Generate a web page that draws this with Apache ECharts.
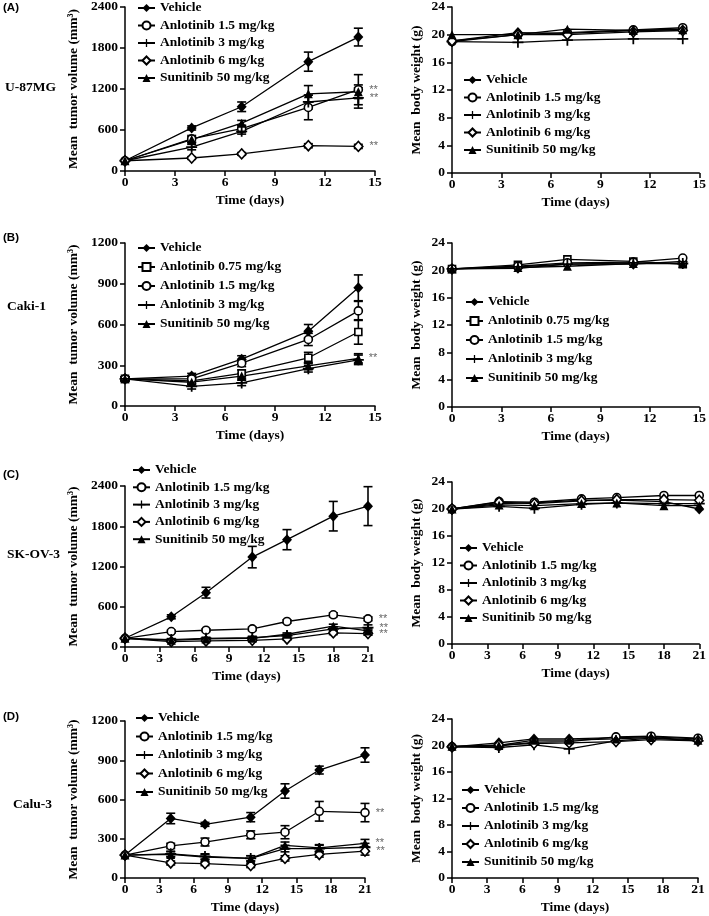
<!DOCTYPE html>
<html><head><meta charset="utf-8">
<script src="https://cdn.jsdelivr.net/npm/echarts@6/dist/echarts.min.js"></script>
<style>html,body{margin:0;padding:0;background:#fff}#c{width:709px;height:916px}</style>
</head><body><div id="c"></div>
<script>
// ---------- names ----------
const N_VEH = 'Vehicle';
const N_A075 = 'Anlotinib 0.75 mg/kg';
const N_A15 = 'Anlotinib 1.5 mg/kg';
const N_A3 = 'Anlotinib 3 mg/kg';
const N_A6 = 'Anlotinib 6 mg/kg';
const N_SUN = 'Sunitinib 50 mg/kg';

// ---------- Panel A: U-87MG ----------
const A_days = [0, 4, 7, 11, 14];
const A_vol_veh = [150, 630, 940, 1600, 1960];
const A_vol_veh_err = [0, 30, 70, 140, 130];
const A_vol_a15 = [150, 470, 620, 930, 1190];
const A_vol_a15_err = [0, 50, 50, 180, 220];
const A_vol_a3 = [150, 350, 580, 1010, 1070];
const A_vol_a3_err = [0, 40, 40, 100, 150];
const A_vol_a6 = [150, 190, 250, 370, 360];
const A_vol_a6_err = [0, 20, 20, 30, 30];
const A_vol_sun = [150, 460, 700, 1130, 1160];
const A_vol_sun_err = [0, 40, 40, 120, 100];
const A_vol_stars = [false, true, true, true, false];
const A_bw_veh = [19.1, 20.3, 20.2, 20.6, 20.8];
const A_bw_a15 = [19.0, 20.0, 20.3, 20.7, 21.0];
const A_bw_a3 = [19.0, 18.9, 19.2, 19.4, 19.4];
const A_bw_a6 = [19.1, 20.0, 20.0, 20.4, 20.6];
const A_bw_sun = [20.0, 20.0, 20.8, 20.6, 20.7];

// ---------- Panel B: Caki-1 ----------
const B_days = [0, 4, 7, 11, 14];
const B_vol_veh = [200, 220, 345, 550, 870];
const B_vol_veh_err = [15, 20, 25, 50, 95];
const B_vol_a075 = [200, 185, 240, 355, 545];
const B_vol_a075_err = [15, 20, 25, 40, 90];
const B_vol_a15 = [200, 200, 315, 490, 700];
const B_vol_a15_err = [15, 20, 25, 45, 70];
const B_vol_a3 = [200, 145, 170, 275, 340];
const B_vol_a3_err = [15, 20, 20, 25, 35];
const B_vol_sun = [200, 175, 220, 295, 350];
const B_vol_sun_err = [15, 15, 20, 25, 35];
const B_vol_stars = [false, false, false, false, true];
const B_bw_veh = [20.2, 20.3, 20.9, 20.9, 21.3];
const B_bw_a075 = [20.2, 20.8, 21.6, 21.3, 20.9];
const B_bw_a15 = [20.2, 20.6, 21.1, 21.2, 21.8];
const B_bw_a3 = [20.2, 20.5, 20.9, 21.1, 21.0];
const B_bw_sun = [20.2, 20.4, 20.6, 21.0, 21.0];

// ---------- Panel C: SK-OV-3 ----------
const C_days = [0, 4, 7, 11, 14, 18, 21];
const C_vol_veh = [130, 450, 810, 1340, 1600, 1950, 2100];
const C_vol_veh_err = [0, 30, 80, 160, 150, 220, 290];
const C_vol_a15 = [130, 230, 250, 270, 380, 480, 420];
const C_vol_a15_err = [0, 20, 20, 25, 25, 30, 30];
const C_vol_a3 = [130, 110, 130, 140, 170, 270, 290];
const C_vol_a3_err = [0, 15, 15, 20, 20, 30, 40];
const C_vol_a6 = [130, 80, 90, 100, 120, 210, 200];
const C_vol_a6_err = [0, 10, 10, 15, 15, 25, 25];
const C_vol_sun = [130, 100, 120, 130, 190, 310, 240];
const C_vol_sun_err = [0, 15, 15, 20, 20, 30, 30];
const C_vol_stars = [false, true, true, true, false];
const C_bw_veh = [20.0, 20.8, 20.9, 21.3, 21.3, 21.1, 20.0];
const C_bw_a15 = [20.0, 21.1, 21.0, 21.5, 21.7, 22.0, 22.0];
const C_bw_a3 = [20.0, 20.4, 20.1, 20.7, 20.9, 20.8, 20.8];
const C_bw_a6 = [20.0, 21.0, 20.8, 21.2, 21.4, 21.4, 21.3];
const C_bw_sun = [20.0, 20.6, 20.5, 20.8, 20.9, 20.5, 20.5];

// ---------- Panel D: Calu-3 ----------
const D_days = [0, 4, 7, 11, 14, 17, 21];
const D_vol_veh = [175, 455, 410, 465, 665, 825, 940];
const D_vol_veh_err = [0, 40, 15, 35, 55, 30, 55];
const D_vol_a15 = [175, 245, 275, 330, 350, 510, 500];
const D_vol_a15_err = [0, 20, 30, 30, 50, 75, 70];
const D_vol_a3 = [175, 185, 165, 150, 225, 225, 235];
const D_vol_a3_err = [0, 20, 20, 20, 25, 25, 30];
const D_vol_a6 = [175, 115, 110, 95, 150, 180, 205];
const D_vol_a6_err = [0, 15, 15, 15, 20, 20, 30];
const D_vol_sun = [175, 180, 160, 150, 250, 230, 265];
const D_vol_sun_err = [0, 20, 20, 20, 25, 25, 30];
const D_vol_stars = [false, true, false, true, true];
const D_bw_days = [0, 4, 7, 10, 14, 17, 21];
const D_bw_veh = [19.8, 20.4, 21.0, 21.0, 21.2, 21.3, 21.0];
const D_bw_a15 = [19.8, 19.9, 20.5, 20.6, 21.3, 21.4, 21.1];
const D_bw_a3 = [19.8, 19.7, 20.1, 19.5, 20.7, 21.1, 20.7];
const D_bw_a6 = [19.8, 20.1, 20.3, 20.4, 20.6, 20.9, 20.7];
const D_bw_sun = [19.9, 20.0, 20.8, 20.8, 21.0, 21.2, 20.8];

// ---------- tick settings ----------
const X15_max = 15, X21_max = 21, X_interval = 3;
const VOL2400_max = 2400, VOL2400_interval = 600;
const VOL1200_max = 1200, VOL1200_interval = 300;
const BW_max = 24, BW_interval = 4;

// ---------- styles ----------
const SERIF = "'Liberation Serif', 'Times New Roman', serif";
const PLUS = 'path://M4.2,0 H5.8 V4.2 H10 V5.8 H5.8 V10 H4.2 V5.8 H0 V4.2 H4.2 Z';
const STYLE = {};
STYLE[N_VEH] = { symbol: 'diamond', fill: '#000', size: [10, 11] };
STYLE[N_A075] = { symbol: 'rect', fill: '#fff', size: 7 };
STYLE[N_A15] = { symbol: 'circle', fill: '#fff', size: 8 };
STYLE[N_A3] = { symbol: PLUS, fill: '#000', size: 11 };
STYLE[N_A6] = { symbol: 'diamond', fill: '#fff', size: [9, 10] };
STYLE[N_SUN] = { symbol: 'triangle', fill: '#000', size: 9 };

const GRIDS = [
  { left: 125, top: 7, width: 250, height: 164 },
  { left: 452, top: 6, width: 250, height: 167 },
  { left: 125, top: 243, width: 250, height: 163 },
  { left: 452, top: 243, width: 250, height: 164 },
  { left: 125, top: 486, width: 243, height: 161 },
  { left: 452, top: 482, width: 250, height: 162 },
  { left: 125, top: 721, width: 240, height: 160 },
  { left: 452, top: 719, width: 246, height: 162 }
];

const panels = [
  { days: A_days, names: [N_VEH, N_A15, N_A3, N_A6, N_SUN], vals: [A_vol_veh, A_vol_a15, A_vol_a3, A_vol_a6, A_vol_sun], errs: [A_vol_veh_err, A_vol_a15_err, A_vol_a3_err, A_vol_a6_err, A_vol_sun_err], stars: A_vol_stars, xmax: X15_max, ymax: VOL2400_max, yint: VOL2400_interval, vol: true, legend: { left: 137, top: 1, gap: 3.5 } },
  { days: A_days, names: [N_VEH, N_A15, N_A3, N_A6, N_SUN], vals: [A_bw_veh, A_bw_a15, A_bw_a3, A_bw_a6, A_bw_sun], xmax: X15_max, ymax: BW_max, yint: BW_interval, vol: false, legend: { left: 463, top: 73, gap: 3.5 } },
  { days: B_days, names: [N_VEH, N_A075, N_A15, N_A3, N_SUN], vals: [B_vol_veh, B_vol_a075, B_vol_a15, B_vol_a3, B_vol_sun], errs: [B_vol_veh_err, B_vol_a075_err, B_vol_a15_err, B_vol_a3_err, B_vol_sun_err], stars: B_vol_stars, xmax: X15_max, ymax: VOL1200_max, yint: VOL1200_interval, vol: true, legend: { left: 137, top: 241, gap: 5 } },
  { days: B_days, names: [N_VEH, N_A075, N_A15, N_A3, N_SUN], vals: [B_bw_veh, B_bw_a075, B_bw_a15, B_bw_a3, B_bw_sun], xmax: X15_max, ymax: BW_max, yint: BW_interval, vol: false, legend: { left: 465, top: 295, gap: 5 } },
  { days: C_days, names: [N_VEH, N_A15, N_A3, N_A6, N_SUN], vals: [C_vol_veh, C_vol_a15, C_vol_a3, C_vol_a6, C_vol_sun], errs: [C_vol_veh_err, C_vol_a15_err, C_vol_a3_err, C_vol_a6_err, C_vol_sun_err], stars: C_vol_stars, xmax: X21_max, ymax: VOL2400_max, yint: VOL2400_interval, vol: true, legend: { left: 132, top: 463, gap: 3.3 } },
  { days: C_days, names: [N_VEH, N_A15, N_A3, N_A6, N_SUN], vals: [C_bw_veh, C_bw_a15, C_bw_a3, C_bw_a6, C_bw_sun], xmax: X21_max, ymax: BW_max, yint: BW_interval, vol: false, legend: { left: 459, top: 541, gap: 3.5 } },
  { days: D_days, names: [N_VEH, N_A15, N_A3, N_A6, N_SUN], vals: [D_vol_veh, D_vol_a15, D_vol_a3, D_vol_a6, D_vol_sun], errs: [D_vol_veh_err, D_vol_a15_err, D_vol_a3_err, D_vol_a6_err, D_vol_sun_err], stars: D_vol_stars, xmax: X21_max, ymax: VOL1200_max, yint: VOL1200_interval, vol: true, legend: { left: 135, top: 711, gap: 4.5 } },
  { days: D_bw_days, names: [N_VEH, N_A15, N_A3, N_A6, N_SUN], vals: [D_bw_veh, D_bw_a15, D_bw_a3, D_bw_a6, D_bw_sun], xmax: X21_max, ymax: BW_max, yint: BW_interval, vol: false, legend: { left: 461, top: 783, gap: 4 } }
];

const axisText = { fontFamily: SERIF, fontWeight: 'bold', fontSize: 13.5, color: '#000' };
const axisLine = { show: true, lineStyle: { color: '#000', width: 1.5 } };
const axisTick = { show: true, length: 5, lineStyle: { color: '#000', width: 1.5 } };
const plainNum = v => String(v);

const grid = [], xAxis = [], yAxis = [], series = [], legend = [];

function renderErr(params, api) {
  const x = api.value(0), y = api.value(1), e = api.value(2);
  if (!e) return null;
  const hi = api.coord([x, y + e]);
  const lo = api.coord([x, y - e]);
  const w = 4.5;
  const st = { stroke: '#000', lineWidth: 1.6 };
  return {
    type: 'group', children: [
      { type: 'line', shape: { x1: hi[0], y1: hi[1], x2: lo[0], y2: lo[1] }, style: st },
      { type: 'line', shape: { x1: hi[0] - w, y1: hi[1], x2: hi[0] + w, y2: hi[1] }, style: st },
      { type: 'line', shape: { x1: lo[0] - w, y1: lo[1], x2: lo[0] + w, y2: lo[1] }, style: st }
    ]
  };
}

panels.forEach((p, i) => {
  grid.push(Object.assign({ containLabel: false }, GRIDS[i]));
  xAxis.push({
    type: 'value', gridIndex: i, min: 0, max: p.xmax, interval: X_interval,
    name: 'Time (days)', nameLocation: 'middle', nameGap: 23, nameTextStyle: axisText,
    axisLine, axisTick, splitLine: { show: false },
    axisLabel: Object.assign({ margin: 5, formatter: plainNum }, axisText)
  });
  yAxis.push({
    type: 'value', gridIndex: i, min: 0, max: p.ymax, interval: p.yint,
    name: p.vol ? 'Mean  tumor volume (mm³)' : 'Mean  body weight (g)',
    nameLocation: 'middle', nameGap: p.vol ? 44 : 28, nameTextStyle: axisText,
    axisLine, axisTick, splitLine: { show: false },
    axisLabel: Object.assign({ margin: 7, formatter: plainNum }, axisText)
  });
  p.names.forEach((nm, k) => {
    const st = STYLE[nm];
    const data = p.days.map((d, j) => {
      const item = { value: [d, p.vals[k][j]] };
      if (p.stars && p.stars[k] && j === p.days.length - 1) {
        item.label = { show: true, formatter: '**', position: 'right', distance: 6, color: '#666', fontFamily: "'Liberation Sans', Arial, sans-serif", fontSize: 11 };
      }
      return item;
    });
    series.push({
      type: 'line', name: nm, xAxisIndex: i, yAxisIndex: i, data,
      symbol: st.symbol, symbolSize: st.size, showAllSymbol: true,
      itemStyle: { color: st.fill, borderColor: '#000', borderWidth: st.fill === '#fff' ? 1.6 : 0 },
      lineStyle: { color: '#000', width: 1.3 },
      label: { show: false },
      emphasis: { disabled: true }, animation: false, z: 3
    });
    if (p.errs) {
      series.push({
        type: 'custom', xAxisIndex: i, yAxisIndex: i,
        data: p.days.map((d, j) => [d, p.vals[k][j], p.errs[k][j]]),
        renderItem: renderErr, encode: { x: 0, y: 1 }, z: 2, animation: false, silent: true
      });
    }
  });
  legend.push({
    orient: 'vertical', left: p.legend.left, top: p.legend.top, itemGap: p.legend.gap,
    itemWidth: 17, itemHeight: 10, padding: 0, selectedMode: false,
    data: p.names,
    textStyle: { fontFamily: SERIF, fontWeight: 'bold', fontSize: 13.5, color: '#000', lineHeight: 14 }
  });
});

const lblSans = { fontFamily: "'Liberation Sans', Arial, sans-serif", fontWeight: 'bold', fontSize: 11.5, fill: '#000', verticalAlign: 'middle' };
const lblSerif = { fontFamily: SERIF, fontWeight: 'bold', fontSize: 13.5, fill: '#000', verticalAlign: 'middle' };
const graphic = [
  { type: 'text', x: 3, y: 8, style: Object.assign({ text: '(A)' }, lblSans) },
  { type: 'text', x: 3, y: 238, style: Object.assign({ text: '(B)' }, lblSans) },
  { type: 'text', x: 3, y: 475, style: Object.assign({ text: '(C)' }, lblSans) },
  { type: 'text', x: 3, y: 717, style: Object.assign({ text: '(D)' }, lblSans) },
  { type: 'text', x: 5, y: 88, style: Object.assign({ text: 'U-87MG' }, lblSerif) },
  { type: 'text', x: 7, y: 307, style: Object.assign({ text: 'Caki-1' }, lblSerif) },
  { type: 'text', x: 7, y: 555, style: Object.assign({ text: 'SK-OV-3' }, lblSerif) },
  { type: 'text', x: 13, y: 805, style: Object.assign({ text: 'Calu-3' }, lblSerif) }
];

const chart = echarts.init(document.getElementById('c'), null, { renderer: 'canvas' });
chart.setOption({ animation: false, backgroundColor: '#fff', grid, xAxis, yAxis, series, legend, graphic, tooltip: { show: false } });
</script></body></html>
